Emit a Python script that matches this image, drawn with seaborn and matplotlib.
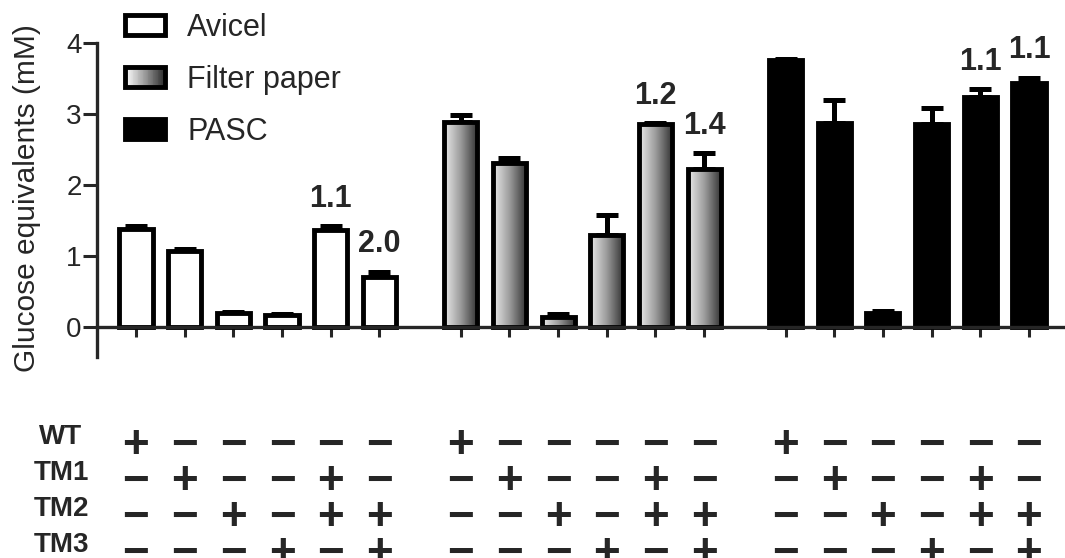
import numpy as np
import pandas as pd
import matplotlib
matplotlib.use("Agg")
import matplotlib.pyplot as plt
import matplotlib.transforms as mtransforms
from matplotlib.colors import LinearSegmentedColormap
from matplotlib.patches import Patch, Rectangle
from matplotlib.legend_handler import HandlerBase
import seaborn as sns

# ---- data -------------------------------------------------------------
substrates = ["Avicel", "Filter paper", "PASC"]
avicel = [1.38, 1.07, 0.20, 0.17, 1.37, 0.71]
avicel_err = [0.04, 0.03, 0.01, 0.02, 0.05, 0.07]
filter_paper = [2.89, 2.31, 0.14, 1.30, 2.86, 2.22]
filter_paper_err = [0.10, 0.07, 0.04, 0.28, 0.01, 0.23]
pasc = [3.76, 2.87, 0.20, 2.86, 3.24, 3.44]
pasc_err = [0.02, 0.33, 0.03, 0.23, 0.11, 0.07]

# synergy factors written above the combination bars (bar index -> label)
avicel_labels = {4: "1.1", 5: "2.0"}
filter_paper_labels = {4: "1.2", 5: "1.4"}
pasc_labels = {4: "1.1", 5: "1.1"}

# enzyme composition of each bar within a substrate group
enzymes = ["WT", "TM1", "TM2", "TM3"]
composition = [
    [1, 0, 0, 0, 0, 0],  # WT
    [0, 1, 0, 0, 1, 0],  # TM1
    [0, 0, 1, 0, 1, 1],  # TM2
    [0, 0, 0, 1, 0, 1],  # TM3
]

# ---- style ------------------------------------------------------------
sns.set_style("ticks")
plt.rcParams["font.family"] = ["Liberation Sans", "DejaVu Sans"]

W, H = 1065, 558
fig = plt.figure(figsize=(W / 100, H / 100), dpi=100)
ax = fig.add_axes([97 / W, 1 - 357 / H, (W - 97) / W, (357 - 43) / H])

group_gap = 6.67
n_bars = len(avicel)
values = [avicel, filter_paper, pasc]
errors = [avicel_err, filter_paper_err, pasc_err]
labels = [avicel_labels, filter_paper_labels, pasc_labels]
face = ["white", "0.5", "black"]

grad_cmap = LinearSegmentedColormap.from_list("fp", ["#ececec", "#9a9a9a", "#303030"])
legend_cmap = LinearSegmentedColormap.from_list("fp_leg", ["#ffffff", "#9a9a9a", "#2a2a2a"])

bar_w = 0.68
edge_lw = 3.5
all_pos = []
group_patches = []
for g in range(3):
    pos = np.arange(n_bars) + g * group_gap
    all_pos.extend(pos)
    df = pd.DataFrame({"pos": pos, "val": values[g]})
    n0 = len(ax.patches)
    sns.barplot(data=df, x="pos", y="val", native_scale=True, width=bar_w,
                color=face[g], saturation=1, edgecolor="black",
                linewidth=edge_lw, errorbar=None, ax=ax, zorder=2)
    group_patches.append(ax.patches[n0:])
    # upper-only error bars, drawn beneath the bars
    ax.errorbar(pos, values[g], yerr=[np.zeros(n_bars), errors[g]], fmt="none",
                ecolor="black", elinewidth=3.6, capsize=7.9, capthick=3.6,
                zorder=1)
    for i, txt in labels[g].items():
        ax.annotate(txt, (pos[i], values[g][i] + errors[g][i]),
                    xytext=(0, 9), textcoords="offset points",
                    ha="center", va="bottom", fontsize=22, fontweight="bold")

# horizontal gradient fill for the filter-paper bars
grad = np.linspace(0, 1, 256).reshape(1, -1)
for bar in group_patches[1]:
    x0, y0 = bar.get_x(), bar.get_y()
    w, h = bar.get_width(), bar.get_height()
    im = ax.imshow(grad, cmap=grad_cmap, aspect="auto",
                   extent=(x0, x0 + w, y0, y0 + h), zorder=1.5,
                   interpolation="bilinear")
    im.set_clip_path(bar)
    bar.set_facecolor("none")

# ---- axes -------------------------------------------------------------
ax.set_xlim(-0.8, 19.08)
ax.set_ylim(-0.42, 4.0)
ax.set_yticks([0, 1, 2, 3, 4])
ax.set_yticklabels(["0", "1", "2", "3", "4"], fontsize=20)
ax.set_xticks(all_pos)
ax.set_xticklabels([])
ax.set_xlabel("")
ax.set_ylabel("Glucose equivalents (mM)", fontsize=21.5, va="center")
ax.yaxis.set_label_coords(-70 / 968, (357 - 198) / 314)
ax.spines["bottom"].set_position(("data", 0))
ax.spines["top"].set_visible(False)
ax.spines["right"].set_visible(False)
for s in ("left", "bottom"):
    ax.spines[s].set_linewidth(2.4)
ax.tick_params(axis="y", length=10, width=2.2, pad=1, direction="out")
ax.tick_params(axis="x", length=7.5, width=2.2, direction="out")
ax.set_facecolor("white")


# ---- legend -----------------------------------------------------------
class GradientHandler(HandlerBase):
    def create_artists(self, legend, orig_handle, xdescent, ydescent,
                       width, height, fontsize, trans):
        arts = []
        n = 48
        for i in range(n):
            arts.append(Rectangle((-xdescent + i * width / n, -ydescent),
                                  width / n * 1.1, height,
                                  facecolor=legend_cmap(i / (n - 1)),
                                  edgecolor="none", linewidth=0,
                                  transform=trans))
        arts.append(Rectangle((-xdescent, -ydescent), width, height,
                              facecolor="none", edgecolor="black",
                              linewidth=edge_lw, transform=trans))
        return arts


gradient_handle = Patch(facecolor="0.5", edgecolor="black")
handles = [
    Patch(facecolor="white", edgecolor="black", linewidth=edge_lw),
    gradient_handle,
    Patch(facecolor="black", edgecolor="black", linewidth=edge_lw),
]
fig.legend(handles, substrates, loc="upper left",
           bbox_to_anchor=(125 / W, 1 - 13 / H), frameon=False,
           fontsize=22, handlelength=1.31, handleheight=0.65,
           handletextpad=0.73, labelspacing=0.72, borderpad=0,
           borderaxespad=0,
           handler_map={gradient_handle: GradientHandler()})

# ---- composition table ------------------------------------------------
sym_tr = mtransforms.blended_transform_factory(ax.transData, fig.transFigure)
row_y = [437, 473, 509, 545]
for r, name in enumerate(enzymes):
    fig.text(61 / W, 1 - row_y[r] / H, name, ha="center", va="center",
             fontsize=20, fontweight="bold")
    for g in range(3):
        for i in range(n_bars):
            sym = "+" if composition[r][i] else "\u2212"
            ax.text(g * group_gap + i, 1 - (row_y[r] + 9) / H, sym,
                    transform=sym_tr, ha="center", va="center",
                    fontsize=33, fontweight="bold", clip_on=False)

fig.savefig("out.png", dpi=100)
